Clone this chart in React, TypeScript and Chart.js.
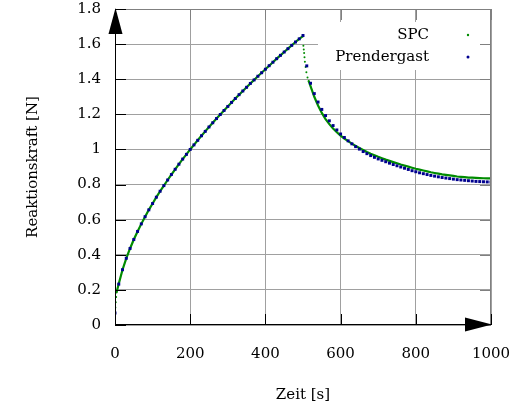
import { useEffect, useRef } from "react";
import { Chart, registerables } from "chart.js";

Chart.register(...registerables);

const seriesNames = ["SPC", "Prendergast"];
const axisTitles = ["Zeit [s]", "Reaktionskraft [N]"];
const xTickValues = [0, 200, 400, 600, 800, 1000];
const xTickLabels = ["0", "200", "400", "600", "800", "1000"];
const yTickValues = [0, 0.2, 0.4, 0.6, 0.8, 1, 1.2, 1.4, 1.6, 1.8];
const yTickLabels = ["0", "0.2", "0.4", "0.6", "0.8", "1", "1.2", "1.4", "1.6", "1.8"];

const prendergastTime = [
  0, 10, 20, 30, 40, 50, 60, 70, 80, 90,
  100, 110, 120, 130, 140, 150, 160, 170, 180, 190,
  200, 210, 220, 230, 240, 250, 260, 270, 280, 290,
  300, 310, 320, 330, 340, 350, 360, 370, 380, 390,
  400, 410, 420, 430, 440, 450, 460, 470, 480, 490,
  500, 510, 520, 530, 540, 550, 560, 570, 580, 590,
  600, 610, 620, 630, 640, 650, 660, 670, 680, 690,
  700, 710, 720, 730, 740, 750, 760, 770, 780, 790,
  800, 810, 820, 830, 840, 850, 860, 870, 880, 890,
  900, 910, 920, 930, 940, 950, 960, 970, 980, 990,
  1000,
];
const prendergastForce = [
  0.068, 0.233, 0.315, 0.380, 0.436, 0.487, 0.533, 0.576, 0.617, 0.656,
  0.692, 0.728, 0.762, 0.794, 0.826, 0.857, 0.887, 0.916, 0.945, 0.972,
  1.000, 1.026, 1.052, 1.078, 1.103, 1.128, 1.152, 1.176, 1.199, 1.222,
  1.245, 1.268, 1.290, 1.312, 1.333, 1.354, 1.376, 1.396, 1.417, 1.437,
  1.457, 1.477, 1.497, 1.517, 1.536, 1.555, 1.574, 1.593, 1.612, 1.630,
  1.649, 1.476, 1.377, 1.318, 1.270, 1.228, 1.193, 1.163, 1.136, 1.111,
  1.088, 1.068, 1.049, 1.032, 1.016, 1.002, 0.988, 0.976, 0.965, 0.955,
  0.946, 0.938, 0.930, 0.922, 0.914, 0.907, 0.900, 0.893, 0.886, 0.879,
  0.873, 0.867, 0.862, 0.857, 0.852, 0.848, 0.844, 0.840, 0.837, 0.834,
  0.831, 0.828, 0.826, 0.824, 0.822, 0.820, 0.818, 0.817, 0.816, 0.815,
  0.814,
];

const spcTime = [
  0, 1, 2, 3, 4,
  10, 20, 30, 40, 50, 60, 70, 80, 90,
  100, 110, 120, 130, 140, 150, 160, 170, 180, 190,
  200, 210, 220, 230, 240, 250, 260, 270, 280, 290,
  300, 310, 320, 330, 340, 350, 360, 370, 380, 390,
  400, 410, 420, 430, 440, 450, 460, 470, 480, 490,
  500, 501, 502, 503, 504, 505, 507, 509, 512, 515,
  520, 530, 540, 550, 560, 570, 580, 590,
  600, 610, 620, 630, 640, 650, 660, 670, 680, 690,
  700, 710, 720, 730, 740, 750, 760, 770, 780, 790,
  800, 810, 820, 830, 840, 850, 860, 870, 880, 890,
  900, 910, 920, 930, 940, 950, 960, 970, 980, 990,
  1000,
];
const spcForce = [
  0.050, 0.100, 0.130, 0.160, 0.185,
  0.235, 0.315, 0.380, 0.436, 0.487, 0.533, 0.576, 0.617, 0.656,
  0.692, 0.728, 0.762, 0.794, 0.826, 0.857, 0.887, 0.916, 0.945, 0.972,
  1.000, 1.026, 1.052, 1.078, 1.103, 1.128, 1.152, 1.176, 1.199, 1.222,
  1.245, 1.268, 1.290, 1.312, 1.333, 1.354, 1.376, 1.396, 1.417, 1.437,
  1.457, 1.477, 1.497, 1.517, 1.536, 1.555, 1.574, 1.593, 1.612, 1.630,
  1.645, 1.590, 1.570, 1.550, 1.525, 1.500, 1.470, 1.440, 1.410, 1.390,
  1.360, 1.300, 1.250, 1.208, 1.173, 1.144, 1.119, 1.098,
  1.079, 1.062, 1.047, 1.033, 1.020, 1.008, 0.997, 0.986, 0.976, 0.967,
  0.958, 0.950, 0.942, 0.935, 0.928, 0.921, 0.914, 0.908, 0.902, 0.896,
  0.890, 0.885, 0.880, 0.875, 0.870, 0.866, 0.862, 0.858, 0.855, 0.852,
  0.849, 0.846, 0.844, 0.842, 0.840, 0.839, 0.838, 0.837, 0.836, 0.835,
  0.835,
];

const GREEN = "#008c00";
const BLUE = "#00008f";
const GRID = "#a0a0a0";
const FRAME = "#808080";
const FAMILY = "'DejaVu Serif', serif";
const FONT = { family: FAMILY, size: 15 };

const pairs = (xs: number[], ys: number[]) => xs.map((x, i) => ({ x, y: ys[i] }));

const isDense = (data: any[], i: number) => {
  const p = data[i];
  const prev = data[i - 1];
  const next = data[i + 1];
  return (prev && p.x - prev.x < 5) || (next && next.x - p.x < 5);
};

const framePlugin = {
  id: "frame",
  beforeDatasetsDraw(chart: any) {
    const { ctx, chartArea: a } = chart;
    ctx.save();
    ctx.fillStyle = "#ffffff";
    ctx.fillRect(a.right - 173, a.top + 13, 162, 48);
    ctx.restore();
  },
  afterDatasetsDraw(chart: any) {
    const { ctx, chartArea: a, scales } = chart;
    const sx = scales.x;
    const sy = scales.y;
    const TL = 11;
    const line = (x1: number, y1: number, x2: number, y2: number) => {
      ctx.beginPath();
      ctx.moveTo(x1, y1);
      ctx.lineTo(x2, y2);
      ctx.stroke();
    };
    ctx.save();
    ctx.lineWidth = 1;
    // legend
    ctx.font = `15px ${FAMILY}`;
    ctx.textAlign = "right";
    ctx.textBaseline = "middle";
    const rows = [a.top + 26, a.top + 48];
    const colors = [GREEN, BLUE];
    const radii = [1.2, 1.5];
    chart.data.datasets.forEach((ds: any, i: number) => {
      ctx.fillStyle = "#000";
      ctx.fillText(ds.label, a.right - 62, rows[i]);
      ctx.fillStyle = colors[i];
      ctx.beginPath();
      ctx.arc(a.right - 23, rows[i], radii[i], 0, Math.PI * 2);
      ctx.fill();
    });
    // gray frame top/right
    ctx.strokeStyle = FRAME;
    line(a.left, a.top + 0.5, a.right, a.top + 0.5);
    line(a.right - 0.5, a.top, a.right - 0.5, a.bottom);
    xTickValues.forEach((v) => {
      const px = Math.round(sx.getPixelForValue(v)) + 0.5;
      line(px, a.top, px, a.top + TL);
    });
    yTickValues.forEach((v) => {
      const py = Math.round(sy.getPixelForValue(v)) + 0.5;
      line(a.right - TL, py, a.right, py);
    });
    // black axes
    ctx.strokeStyle = "#000";
    line(a.left + 0.5, a.bottom, a.left + 0.5, a.top);
    line(a.left, a.bottom - 0.5, a.right, a.bottom - 0.5);
    xTickValues.forEach((v) => {
      const px = Math.round(sx.getPixelForValue(v)) + 0.5;
      line(px, a.bottom, px, a.bottom - TL);
    });
    yTickValues.forEach((v) => {
      const py = Math.round(sy.getPixelForValue(v)) + 0.5;
      line(a.left, py, a.left + TL, py);
    });
    // arrows
    ctx.fillStyle = "#000";
    ctx.beginPath();
    ctx.moveTo(a.left + 0.5, a.top - 1);
    ctx.lineTo(a.left + 7.5, a.top + 25);
    ctx.lineTo(a.left - 6.5, a.top + 25);
    ctx.closePath();
    ctx.fill();
    ctx.beginPath();
    ctx.moveTo(a.right + 1, a.bottom - 0.5);
    ctx.lineTo(a.right - 26, a.bottom - 7.5);
    ctx.lineTo(a.right - 26, a.bottom + 6.5);
    ctx.closePath();
    ctx.fill();
    ctx.restore();
  },
};

export default function App() {
  const ref = useRef<HTMLCanvasElement | null>(null);
  useEffect(() => {
    if (!ref.current) return;
    const chart = new Chart(ref.current, {
      type: "scatter",
      data: {
        datasets: [
          {
            label: seriesNames[0],
            data: pairs(spcTime, spcForce),
            showLine: true,
            borderColor: GREEN,
            backgroundColor: GREEN,
            borderWidth: 2.2,
            pointRadius: (c: any) => (isDense(c.dataset.data, c.dataIndex) ? 1 : 0),
            pointBorderWidth: 0,
            segment: {
              borderColor: (c: any) => (c.p1.parsed.x - c.p0.parsed.x < 5 ? "rgba(0,0,0,0)" : GREEN),
            },
            order: 1,
          } as any,
          {
            label: seriesNames[1],
            data: pairs(prendergastTime, prendergastForce),
            showLine: false,
            borderColor: BLUE,
            backgroundColor: BLUE,
            pointStyle: "rect",
            pointRadius: 2.1,
            pointBorderWidth: 0,
            order: 0,
          } as any,
        ],
      },
      options: {
        animation: false,
        responsive: false,
        events: [],
        layout: { padding: { left: 0, right: 29, top: 9, bottom: 0 } },
        plugins: { legend: { display: false }, tooltip: { enabled: false } },
        scales: {
          x: {
            type: "linear",
            min: 0,
            max: 1000,
            afterBuildTicks: (s: any) => {
              s.ticks = xTickValues.map((value) => ({ value }));
            },
            afterFit: (s: any) => {
              s.height = 80;
              s.paddingLeft = 0;
              s.paddingRight = 0;
            },
            grid: { color: GRID, lineWidth: 1, drawTicks: false },
            border: { display: false },
            ticks: {
              padding: 20,
              color: "#000",
              font: FONT,
              maxRotation: 0,
              autoSkip: false,
              callback: (v: any) => xTickLabels[xTickValues.indexOf(Number(v))] ?? "",
            },
            title: {
              display: true,
              text: axisTitles[0],
              color: "#000",
              font: FONT,
              padding: { top: 0, bottom: 1 },
            },
          },
          y: {
            type: "linear",
            min: 0,
            max: 1.8,
            afterBuildTicks: (s: any) => {
              s.ticks = yTickValues.map((value) => ({ value }));
            },
            afterFit: (s: any) => {
              s.width = 115;
              s.paddingTop = 0;
              s.paddingBottom = 0;
            },
            grid: { color: GRID, lineWidth: 1, drawTicks: false },
            border: { display: false },
            ticks: {
              padding: 14,
              color: "#000",
              font: FONT,
              autoSkip: false,
              callback: (v: any, i: number) => yTickLabels[i] ?? "",
            },
            title: {
              display: true,
              text: axisTitles[1],
              color: "#000",
              font: FONT,
              padding: { top: 24, bottom: 0 },
            },
          },
        },
      } as any,
      plugins: [framePlugin],
    });
    return () => chart.destroy();
  }, []);
  return (
    <div style={{ position: "fixed", left: 0, top: 0, width: 520, height: 405, background: "#fff" }}>
      <canvas ref={ref} width={520} height={405} />
    </div>
  );
}
